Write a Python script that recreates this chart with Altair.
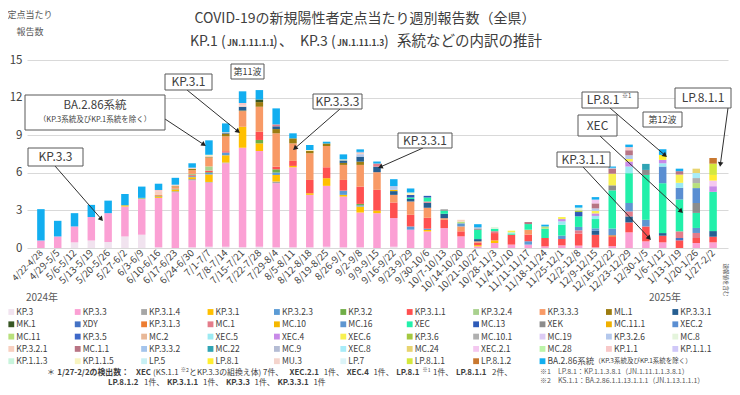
import math
import altair as alt
import pandas as pd

# ---------------- data ----------------
weeks = ["4/22-4/28", "4/29-5/5", "5/6-5/12", "5/13-5/19", "5/20-5/26", "5/27-6/2", "6/3-6/9",
         "6/10-6/16", "6/17-6/23", "6/24-6/30", "7/1-7/7", "7/8-7/14", "7/15-7/21", "7/22-7/28",
         "7/29-8/4", "8/5-8/11", "8/12-8/18", "8/19-8/25", "8/26-9/1", "9/2-9/8", "9/9-9/15",
         "9/16-9/22", "9/23-9/29", "9/30-10/6", "10/7-10/13", "10/14-10/20", "10/21-10/27",
         "10/28-11/3", "11/4-11/10", "11/11-11/17", "11/18-11/24", "11/25-12/1", "12/2-12/8",
         "12/9-12/15", "12/16-12/22", "12/23-12/29", "12/30-1/5", "1/6-1/12", "1/13-1/19",
         "1/20-1/26", "1/27-2/2"]

lineages = ["KP.3", "KP.3.3", "KP.3.1.4", "KP.3.1", "KP.3.2.3", "KP.3.2", "KP.3.1.1", "KP.3.2.4", "KP.3.3.3", "ML.1", "KP.3.3.1",
            "MK.1", "XDY", "KP.3.1.3", "MC.1", "MC.10", "MC.16", "XEC", "MC.13", "XEK", "MC.11.1", "XEC.2",
            "MC.11", "KP.3.5", "MC.2", "XEC.5", "XEC.4", "XEC.6", "KP.3.6", "MC.10.1", "MC.19", "KP.3.2.6", "MC.8",
            "KP.3.2.1", "MC.1.1", "KP.3.3.2", "MC.22", "MC.9", "XEC.8", "MC.24", "XEC.2.1", "MC.28", "KP.1.1", "KP.1.1.1",
            "KP.1.1.3", "KP.1.1.5", "LP.5", "LP.8.1", "MU.3", "LP.7", "LP.8.1.1", "LP.8.1.2", "BA.2.86系統"]

colors = ["#f1e3ef", "#fba0d4", "#a6a6a6", "#ffc000", "#5b9bd5", "#70ad47", "#ff5050", "#a9d18e", "#f89a66", "#9c7c10", "#255e91",
          "#375623", "#4472c4", "#ed7d31", "#e47c8a", "#f5b800", "#5e96d0", "#22f0aa", "#2e5bb8", "#8c8c8c", "#f0b000", "#5a8ed2",
          "#b8e07c", "#3e68c8", "#e8b898", "#9ceaf2", "#c88ae8", "#f8f050", "#a4c840", "#b0b0b0", "#dccbf4", "#b4c8ec", "#e4f4dc",
          "#f8d0c0", "#b87484", "#a4c4ec", "#30a4b4", "#b4bcd4", "#a8ecf8", "#e8d470", "#f4c8f0", "#bcf4a8", "#f8c8c8", "#d0c8f8",
          "#c8f4dc", "#f8f4c0", "#c8f0f4", "#ffee30", "#f4d4cc", "#dcf4f8", "#d4e83c", "#c87830", "#12aef0"]

# main lineages (one value per week)
kp3 = [0, 0, 0.45, 0.6, 0.48, 0.92, 1.06, 0.05, 0, 0.05,
       0.1, 0.1, 0.05, 0.1, 0.05, 0.05, 0.05, 0.1, 0.05, 0.05,
       0, 0.1, 0, 0, 0, 0, 0, 0, 0, 0,
       0, 0, 0, 0, 0, 0, 0, 0, 0, 0, 0]
kp33 = [0.6, 0.92, 1.27, 1.87, 2.3, 2.39, 2.84, 3.95, 4.45, 5.35,
        5.12, 6.66, 7.95, 7.64, 5.12, 6.39, 4.19, 4.86, 4.05, 2.78,
        2.78, 2.29, 1.46, 1.32, 1.59, 0.93, 0.13, 0.4, 0.27, 0.27,
        0.13, 0.21, 0.19, 0.05, 0.15, 1.25, 0.53, 0.45, 0, 0.4, 0.45]
kp31 = [0, 0, 0, 0, 0, 0.1, 0, 0.08, 0.15, 0.15,
        0.6, 0.58, 1.67, 0.61, 0.53, 0.11, 0.13, 0.61, 0.14, 0.48,
        0.21, 0, 0, 0.12, 0, 0, 0.1, 0.21, 0, 0,
        0, 0, 0, 0, 0, 0, 0, 0, 0, 0, 0]
kp311 = [0, 0, 0, 0, 0, 0, 0, 0, 0, 0.08,
         0.12, 0.1, 0, 0.66, 0.21, 0.4, 1.06, 0.87, 0.85, 1.38,
         1.65, 1.24, 0.93, 0.87, 0.66, 0.4, 0.2, 0.58, 0.79, 0.53,
         0.67, 0.51, 0.95, 1.0, 0.74, 0.79, 1.19, 0.53, 0.61, 0.4, 0.45]
kp333 = [0, 0, 0, 0, 0, 0, 0, 0.1, 0.15, 0.3,
         0.67, 1.19, 1.25, 1.99, 2.66, 1.4, 2.13, 1.7, 1.2, 1.73,
         1.41, 0.61, 1.06, 0.8, 0.13, 0.39, 0.1, 0, 0, 0.39,
         0, 0, 0, 0, 0, 0, 0, 0, 0, 0, 0]
ml1 = [0, 0, 0, 0, 0, 0, 0, 0, 0.05, 0.1,
       0.06, 0.21, 0.05, 0.37, 0.34, 0.4, 0.2, 0.2, 0.16, 0.26,
       0, 0, 0, 0, 0, 0, 0, 0, 0, 0,
       0, 0, 0, 0, 0, 0, 0, 0, 0, 0, 0]
kp331 = [0, 0, 0, 0, 0, 0, 0, 0, 0, 0,
         0, 0.05, 0.3, 0, 0.22, 0, 0, 0, 0.2, 0.4,
         0.44, 0.3, 0.2, 0.4, 0.35, 0, 0.18, 0, 0, 0,
         0, 0, 0, 0.32, 0, 0.48, 0, 0.21, 0, 0, 0.45]
xec = [0, 0, 0, 0, 0, 0, 0, 0, 0, 0,
       0, 0, 0, 0, 0, 0, 0, 0, 0, 0,
       0, 0, 0.12, 0.32, 0.25, 0, 0.74, 0.2, 0.1, 0.45,
       0.74, 0.87, 0.85, 0.74, 3.05, 2.38, 3.58, 3.98, 2.54, 1.2, 3.13]
ba286 = [2.5, 1.25, 1.06, 0.97, 1.0, 0.9, 0.9, 0.5, 0.55, 0.35,
         1.15, 0.71, 0.93, 0.75, 1.28, 0.4, 0.4, 0.14, 0.4, 0.2,
         0.16, 0.55, 0.32, 0, 0, 0, 0.25, 0, 0, 0,
         0.14, 0, 0.2, 0.2, 0.1, 0.2, 0, 0.45, 0.2, 0, 0]

# minor lineages: {week index: value}
kp314 = {8: 0.08, 9: 0.1, 10: 0.05, 11: 0.06, 14: 0.13}
kp323 = {8: 0.05, 9: 0.08, 10: 0.12, 11: 0.22, 14: 0.19, 18: 0.34, 19: 0.1, 22: 0.26, 23: 0.1, 29: 0.27}
kp32 = {7: 0.05, 10: 0.06, 13: 0.27, 14: 0.26, 19: 0.11}
kp324 = {6: 0.1, 9: 0.1, 10: 0.34}
mk1 = {13: 0.21}
xdy = {38: 0.19}
kp313 = {34: 0.13}
mc1 = {14: 0.15, 20: 0.25, 23: 0.1, 27: 0.15, 32: 0.27, 35: 0.4, 38: 0.53, 39: 0.4}
mc10 = {21: 0.1}
mc16 = {25: 0.25, 31: 0.27, 32: 0.27, 33: 0.2, 34: 0.53, 35: 0.67, 36: 0.53, 39: 0.4}
mc13 = {22: 0.2, 23: 0.13, 32: 0.34}
xek = {24: 0.1, 26: 0.1, 34: 0.4, 36: 0.4, 39: 0.79}
xec2 = {37: 1.33, 38: 0.93, 39: 1.19}
mc11 = {25: 0.13, 30: 0.18, 39: 0.4}
xec5 = {28: 0.09, 31: 0.27, 33: 0.25, 35: 0.53, 37: 0.26, 38: 0.4}
xec4 = {31: 0.18, 33: 0.2, 35: 0.4, 37: 0.27, 40: 0.45}
xec6 = {28: 0.13, 31: 0.16, 33: 0.2, 34: 0.93, 35: 0.2, 38: 0.66}
kp36 = {32: 0.13}
mc101 = {39: 0.4}
kp326 = {19: 0.2, 21: 0.3, 33: 0.2, 35: 0.3}
mc8 = {27: 0.13, 32: 0.22}
kp321 = {7: 0.25, 8: 0.12, 9: 0.1, 10: 0.1, 11: 0.06, 12: 0.1, 19: 0.1, 25: 0.15}
mc1_1 = {29: 0.16, 33: 0.4, 34: 0.4, 35: 0.4, 38: 0.27}
mc22 = {36: 0.48}
mc9 = {19: 0.08, 26: 0.1, 34: 0.07}
xec8 = {39: 0.4}
mc24 = {39: 0.35}
xec21 = {33: 0.3, 40: 0.45}
kp11 = {7: 0.15, 12: 0.2, 35: 0.25}
kp115 = {10: 0.1, 16: 0.06, 18: 0.08, 22: 0.2}
lp81 = {37: 0.4, 40: 0.45}
lp811 = {40: 0.9}
lp812 = {40: 0.45}

series = {
    "KP.3": kp3, "KP.3.3": kp33, "KP.3.1.4": kp314, "KP.3.1": kp31, "KP.3.2.3": kp323, "KP.3.2": kp32,
    "KP.3.1.1": kp311, "KP.3.2.4": kp324, "KP.3.3.3": kp333, "ML.1": ml1, "KP.3.3.1": kp331,
    "MK.1": mk1, "XDY": xdy, "KP.3.1.3": kp313, "MC.1": mc1, "MC.10": mc10, "MC.16": mc16, "XEC": xec,
    "MC.13": mc13, "XEK": xek, "XEC.2": xec2, "MC.11": mc11, "XEC.5": xec5, "XEC.4": xec4, "XEC.6": xec6,
    "KP.3.6": kp36, "MC.10.1": mc101, "KP.3.2.6": kp326, "MC.8": mc8, "KP.3.2.1": kp321, "MC.1.1": mc1_1,
    "MC.22": mc22, "MC.9": mc9, "XEC.8": xec8, "MC.24": mc24, "XEC.2.1": xec21, "KP.1.1": kp11,
    "KP.1.1.5": kp115, "LP.8.1": lp81, "LP.8.1.1": lp811, "LP.8.1.2": lp812, "BA.2.86系統": ba286,
}

rows = []
for k, name in enumerate(lineages):
    s = series.get(name)
    if s is None:
        continue
    items = s.items() if isinstance(s, dict) else enumerate(s)
    for wi, v in items:
        if v > 0:
            rows.append({"wk": wi, "lin": name, "ord": k, "v": v})
bar_df = pd.DataFrame(rows)

# ---------------- layout helpers (page px -> plot px) ----------------
OX, OY = 27, 60
W, H = 701, 188
X_DOM = [-0.53, 40.59]
INK = "#404040"


def px(x):
    return x - OX


def py(y):
    return y - OY


color_scale = alt.Scale(domain=lineages, range=colors)
label_expr = "[" + ",".join("'%s'" % w for w in weeks) + "][datum.value]"

bars = alt.Chart(bar_df).mark_bar(width=7.5).encode(
    x=alt.X("wk:Q", scale=alt.Scale(domain=X_DOM, nice=False, zero=False),
            axis=alt.Axis(values=list(range(len(weeks))), labelExpr=label_expr, labelAngle=-45,
                          labelAlign="right", labelBaseline="middle",
                          labelFontSize={"condition": {"test": "datum.value == 0", "value": 8.8}, "value": 9.8},
                          labelColor=INK, labelPadding=3, domain=False, ticks=False, grid=False,
                          title=None, labelOverlap=False, labelFlush=False, labelBound=False)),
    y=alt.Y("v:Q", stack="zero", scale=alt.Scale(domain=[0, 15], nice=False),
            axis=alt.Axis(values=[0, 3, 6, 9, 12, 15], grid=True, gridColor="#d9d9d9", domain=False,
                          ticks=False, labelFontSize=11.5, labelColor=INK, labelPadding=5, title=None)),
    color=alt.Color("lin:N", scale=color_scale, legend=None),
    order=alt.Order("ord:Q", sort="ascending"),
)

# ---------------- manual legend ----------------
leg = []
for k, name in enumerate(lineages):
    c, r = k % 11, k // 11
    sx = 11.3 + 66.4 * c
    sy = 312 + 12.3 * r
    leg.append({"lin": name, "label": name, "sx": px(sx), "sy": py(sy), "tx": px(sx + 5)})
leg_df = pd.DataFrame(leg)
leg_sq = alt.Chart(leg_df).mark_square(size=34, opacity=1).encode(
    x=alt.X("sx:Q", scale=None), y=alt.Y("sy:Q", scale=None),
    color=alt.Color("lin:N", scale=color_scale, legend=None))
leg_tx = alt.Chart(leg_df).mark_text(align="left", baseline="middle", fontSize=8.5, color=INK).encode(
    x=alt.X("tx:Q", scale=None), y=alt.Y("sy:Q", scale=None), text="label:N")

# ---------------- annotation boxes & arrows ----------------
boxes = [(28, 148, 83, 166), (25, 95, 165, 130), (165, 74, 212, 90), (231, 64, 264, 79),
         (313, 94, 362, 109), (398, 133, 452, 148), (582, 92, 638, 108), (643, 112, 682, 127),
         (675, 88, 731, 108), (578, 115, 617, 136), (557, 152, 610, 167)]
box_df = pd.DataFrame([{"x": px(a), "y": py(b), "x2": px(c), "y2": py(d)} for a, b, c, d in boxes])
box_layer = alt.Chart(box_df).mark_rect(fill="white", stroke="#595959", strokeWidth=1).encode(
    x=alt.X("x:Q", scale=None), x2="x2:Q", y=alt.Y("y:Q", scale=None), y2="y2:Q")

arrows = [(55, 166, 103, 221), (165, 119, 206, 146), (187, 90, 240, 133), (340, 109, 293, 150),
          (423, 148, 378, 168), (610, 108, 667, 157), (728, 108, 720, 167), (600, 136, 683, 213),
          (583, 167, 651, 240)]
ar_rows, head_rows = [], []
for x0, y0, x1, y1 in arrows:
    dx, dy = x1 - x0, y1 - y0
    L = math.hypot(dx, dy)
    ang = math.degrees(math.atan2(dx, -dy)) % 360
    ar_rows.append({"x": px(x0), "y": py(y0), "x2": px(x1 - dx / L * 3), "y2": py(y1 - dy / L * 3)})
    head_rows.append({"x": px(x1 - dx / L * 2.5), "y": py(y1 - dy / L * 2.5), "a": ang})
arrow_layer = alt.Chart(pd.DataFrame(ar_rows)).mark_rule(color="#303030", strokeWidth=1).encode(
    x=alt.X("x:Q", scale=None), x2="x2:Q", y=alt.Y("y:Q", scale=None), y2="y2:Q")
head_layer = alt.Chart(pd.DataFrame(head_rows)).mark_point(shape="triangle-up", filled=True, size=30,
                                                          color="#202020", opacity=1).encode(
    x=alt.X("x:Q", scale=None), y=alt.Y("y:Q", scale=None), angle=alt.Angle("a:Q", scale=None))

# ---------------- texts ----------------
texts = []  # (text, page_x, page_y, size, align, weight, color)


def T(t, x, y, s, align="left", weight="normal", color=INK):
    texts.append((t, x, y, s, align, weight, color))


def em_width(s):
    w = 0.0
    for ch in s:
        if ord(ch) >= 0x2E80 or ch in "※":
            w += 1.0
        elif ch.isdigit():
            w += 0.6
        elif ch in ".,:;":
            w += 0.3
        elif ch == " ":
            w += 0.3
        elif ch in "/-":
            w += 0.4
        elif ch in "()":
            w += 0.36
        elif ch.isupper():
            w += 0.68
        else:
            w += 0.58
    return w


def flow(pieces, x, y, color=INK):
    # pieces: (text, size, bold, dy)
    for t, size, bold, dy in pieces:
        shown = t.strip()
        lead = len(t) - len(t.lstrip())
        x_draw = x + lead * 0.3 * size
        T(shown, x_draw, y + dy, size, "left", "bold" if bold else "normal", color)
        x += em_width(t) * size * (1.05 if bold else 1.0)


T("COVID-19の新規陽性者定点当たり週別報告数（全県）", 365, 19, 14, "center")
# subtitle pieces
T("KP.1", 190, 42, 14)
T("(", 221, 42, 14)
T("JN.1.11.1.1", 227, 43, 8.5, "left", "bold")
T(")", 273, 42, 14)
T("、", 279, 42, 14)
T("KP.3", 300, 42, 14)
T("(", 331, 42, 14)
T("JN.1.11.1.3", 337, 43, 8.5, "left", "bold")
T(")", 384, 42, 14)
T("系統などの内訳の推計", 397, 42, 14.5)

T("定点当たり", 30, 15, 9, "center", color="#595959")
T("報告数", 30, 32, 9, "center", color="#595959")
T("2024年", 42, 298, 10, "center", color="#595959")
T("2025年", 665, 298, 10, "center", color="#595959")

T("KP.3.3", 55.5, 157, 12, "center")
T("BA.2.86系統", 95, 106, 11.5, "center")
T("（KP.3系統及びKP.1系統を除く）", 95, 120, 7.5, "center")
T("KP.3.1", 188.5, 82, 12, "center")
T("第11波", 247.5, 71.5, 9, "center")
T("KP.3.3.3", 337.5, 101.5, 12, "center")
T("KP.3.3.1", 425, 140.5, 12, "center")
T("LP.8.1", 603, 100, 12, "center")
T("※1", 622, 96, 6)
T("第12波", 662.5, 119.5, 9, "center")
T("LP.8.1.1", 703, 98, 12, "center")
T("XEC", 597.5, 125.5, 12, "center")
T("KP.3.1.1", 583.5, 159.5, 12, "center")

# BA.2.86 legend suffix
T("（KP.3系統及びKP.1系統を除く）", 11.3 + 66.4 * 8 + 5 + 47, 312 + 12.3 * 4, 6.5)

# right-side notes
T("※1　LP.8.1：KP.1.1.3.8.1（JN.1.11.1.1.3.8.1）", 540, 372, 7, color="#595959")
T("※2　KS.1.1：BA.2.86.1.1.13.1.1.1（JN.1.13.1.1.1）", 540, 381, 7, color="#595959")

FS = 7.9
SM = FS * 0.65
flow([("＊ ", FS, False, 0), ("1/27-2/2の検出数：", FS, True, 0), (" XEC", FS, True, 0),
      ("(KS.1.1", FS, False, 0), ("※2", SM, False, -3), ("とKP.3.3の組換え体) 7件、 ", FS, False, 0),
      ("XEC.2.1", FS, True, 0), (" 1件、 ", FS, False, 0), ("XEC.4", FS, True, 0), (" 1件、 ", FS, False, 0),
      ("LP.8.1", FS, True, 0), ("※1", SM, False, -3), (" 1件、 ", FS, False, 0), ("LP.8.1.1", FS, True, 0),
      (" 2件、", FS, False, 0)], 47, 373)
flow([("LP.8.1.2", FS, True, 0), (" 1件、 ", FS, False, 0), ("KP.3.1.1", FS, True, 0), (" 1件、 ", FS, False, 0),
      ("KP.3.3", FS, True, 0), (" 1件、 ", FS, False, 0), ("KP.3.3.1", FS, True, 0), (" 1件", FS, False, 0)], 108, 383)

text_df = pd.DataFrame(texts, columns=["t", "x", "y", "s", "al", "w", "c"])
text_df["x"] = text_df["x"].map(px)
text_df["y"] = text_df["y"].map(py)
text_layers = []
for (al, w, c), g in text_df.groupby(["al", "w", "c"]):
    text_layers.append(
        alt.Chart(g).mark_text(align=al, baseline="middle", fontWeight=w, color=c).encode(
            x=alt.X("x:Q", scale=None), y=alt.Y("y:Q", scale=None), text="t:N",
            size=alt.Size("s:Q", scale=None)))

vert = alt.Chart(pd.DataFrame({"t": ["速報値を含む"], "x": [px(726)], "y": [py(280)]})).mark_text(
    angle=90, fontSize=5.5, color="#595959", baseline="middle", align="center").encode(
    x=alt.X("x:Q", scale=None), y=alt.Y("y:Q", scale=None), text="t:N")

chart = alt.layer(bars, arrow_layer, head_layer, box_layer, leg_sq, leg_tx, vert, *text_layers).properties(
    width=W, height=H,
    autosize=alt.AutoSizeParams(type="none"),
    padding={"left": 19, "top": 52, "right": 4, "bottom": 139},
).configure(font="Noto Sans CJK JP").configure_view(stroke=None)

chart.save("out.html", embed_options={"renderer": "svg", "actions": False})
